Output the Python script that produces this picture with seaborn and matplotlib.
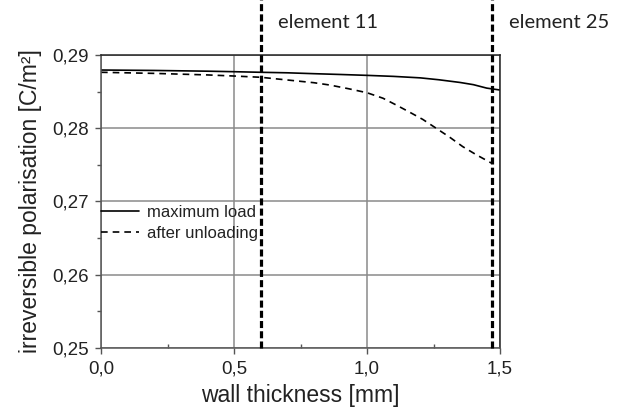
import matplotlib
matplotlib.use("Agg")
import matplotlib.pyplot as plt
import matplotlib.transforms as mtransforms
from matplotlib.ticker import MultipleLocator, FuncFormatter
import seaborn as sns
import pandas as pd

# ---- data ----
x_max = [0.0, 0.2, 0.4, 0.5, 0.6, 0.7, 0.8, 0.9, 1.0, 1.1, 1.2, 1.27, 1.35, 1.4, 1.45, 1.5]
y_max = [0.28795, 0.28789, 0.28779, 0.28772, 0.28764, 0.28757, 0.28745, 0.28734, 0.28722,
         0.28708, 0.28688, 0.28662, 0.28625, 0.28595, 0.28548, 0.28522]

x_unl = [0.0, 0.2, 0.4, 0.5, 0.6, 0.7, 0.8, 0.86, 0.93, 1.0, 1.06, 1.11, 1.16, 1.21, 1.26,
         1.31, 1.36, 1.41, 1.47]
y_unl = [0.28764, 0.28749, 0.28728, 0.28713, 0.28696, 0.28659, 0.28622, 0.2859, 0.2854,
         0.28485, 0.2841, 0.28317, 0.2822, 0.2812, 0.2800, 0.2788, 0.27749, 0.2764, 0.2752]

series_labels = ["maximum load", "after unloading"]
element_positions = [0.6, 1.47]
element_labels = ["element 11", "element 25"]
x_label = "wall thickness [mm]"
y_label = "irreversible polarisation [C/m²]"

df_max = pd.DataFrame({"x": x_max, "y": y_max})
df_unl = pd.DataFrame({"x": x_unl, "y": y_unl})

sns.set_style("white")
plt.rcParams["font.family"] = ["Liberation Sans", "DejaVu Sans"]

fig = plt.figure(figsize=(6.17, 4.09), dpi=100)
ax = fig.add_axes([101 / 617, 1 - 348 / 409, 399 / 617, 293 / 409])

sns.lineplot(data=df_max, x="x", y="y", ax=ax, color="black", linewidth=1.2,
             label=series_labels[0])
sns.lineplot(data=df_unl, x="x", y="y", ax=ax, color="black", linewidth=1.2,
             linestyle=(0, (4, 3)), label=series_labels[1])

ax.set_xlim(0, 1.5)
ax.set_ylim(0.25, 0.29)
ax.xaxis.set_major_locator(MultipleLocator(0.5))
ax.xaxis.set_minor_locator(MultipleLocator(0.25))
ax.yaxis.set_major_locator(MultipleLocator(0.01))
ax.yaxis.set_minor_locator(MultipleLocator(0.005))
ax.xaxis.set_major_formatter(FuncFormatter(lambda v, p: f"{v:.1f}".replace(".", ",")))
ax.yaxis.set_major_formatter(FuncFormatter(lambda v, p: f"{v:.2f}".replace(".", ",")))

ax.grid(True, which="major", color="#8a8a8a", linewidth=1.1)
ax.set_axisbelow(True)
for side, sp in ax.spines.items():
    sp.set_visible(True)
    sp.set_linewidth(1.1)
    sp.set_color("#555555" if side in ("left", "bottom") else "#222222")

ax.tick_params(axis="both", which="major", direction="out", length=4, width=1,
               color="#555555", labelsize=13.5, labelcolor="#222222", pad=5,
               left=True, bottom=True)
ax.tick_params(axis="y", which="minor", direction="out", length=3, width=1,
               color="#555555", left=True)
ax.tick_params(axis="x", which="minor", direction="in", length=3, width=1,
               color="#555555", bottom=True)

ax.set_xlabel(x_label, fontsize=16.5, color="#222222", labelpad=5)
ax.set_ylabel(y_label, fontsize=16.5, color="#222222", labelpad=7)

# vertical element markers extending above the axes
trans = mtransforms.blended_transform_factory(ax.transData, ax.transAxes)
top_frac = 348 / 293
for xp, lab in zip(element_positions, element_labels):
    ax.plot([xp, xp], [0, top_frac], transform=trans, color="black", linewidth=2.3,
            linestyle=(0, (2.2, 1.0)), clip_on=False, zorder=5)
    ax.text(xp + 0.065, (348 - 22) / 293, lab, transform=trans, ha="left", va="center",
            fontsize=14.5, family=["Lato", "DejaVu Sans"], color="#222222")

leg = ax.legend(loc="center left", bbox_to_anchor=(0.0, (348 - 223) / 293),
                frameon=False, fontsize=12, handlelength=2.3, handletextpad=0.45,
                borderpad=0, borderaxespad=0, labelspacing=0.32)
for t in leg.get_texts():
    t.set_color("#222222")

fig.savefig("out.png", dpi=100)
